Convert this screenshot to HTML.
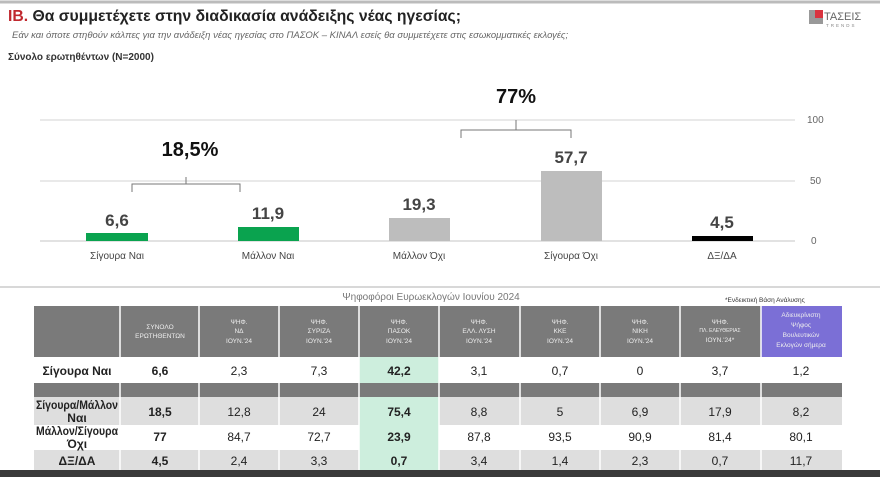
<!DOCTYPE html>
<html><head><meta charset="utf-8"><style>
body{margin:0;background:#fff;}
svg{display:block;font-family:"Liberation Sans Narrow","Liberation Sans","DejaVu Sans",sans-serif;}
</style></head><body>
<svg width="880" height="477" viewBox="0 0 880 477" xmlns="http://www.w3.org/2000/svg">
<rect width="880" height="477" fill="#fff"/>
<line x1="0" y1="2" x2="880" y2="2" stroke="#bbb" stroke-width="3"/>
<text x="8" y="21" font-size="16" font-weight="bold" fill="#222" textLength="453" lengthAdjust="spacingAndGlyphs"><tspan fill="#c0282e">ΙΒ.</tspan> Θα συμμετέχετε στην διαδικασία ανάδειξης νέας ηγεσίας;</text>
<text x="12" y="38" font-size="9.5" font-style="italic" fill="#666">Εάν και όποτε στηθούν κάλπες για την ανάδειξη νέας ηγεσίας στο ΠΑΣΟΚ – ΚΙΝΑΛ εσείς θα συμμετέχετε στις εσωκομματικές εκλογές;</text>
<text x="8" y="60" font-size="10" font-weight="bold" fill="#333">Σύνολο ερωτηθέντων (N=2000)</text>
<rect x="809" y="10" width="14" height="14" fill="#999"/>
<rect x="815" y="10" width="8" height="8" fill="#d9333f"/>
<text x="824" y="20" font-size="11" fill="#666">ΤΑΣΕΙΣ</text>
<text x="826" y="27" font-size="4.5" fill="#888" letter-spacing="2">TRENDS</text>
<g stroke="#e2e2e2" stroke-width="1.5">
<line x1="40" y1="120" x2="795" y2="120"/>
<line x1="40" y1="181" x2="795" y2="181"/>
</g>
<line x1="40" y1="241" x2="795" y2="241" stroke="#d8d8d8" stroke-width="1.5"/>
<g font-size="10" fill="#666">
<text x="807" y="123">100</text><text x="810" y="184">50</text><text x="811" y="244">0</text>
</g>
<rect x="86" y="233" width="62" height="8" fill="#0aa34f"/>
<rect x="238" y="227" width="61" height="14" fill="#0aa34f"/>
<rect x="389" y="218" width="61" height="23" fill="#bdbdbd"/>
<rect x="541" y="171" width="61" height="70" fill="#bdbdbd"/>
<rect x="692" y="236" width="61" height="5" fill="#000"/>
<g font-size="17" font-weight="bold" fill="#444" text-anchor="middle">
<text x="117" y="226">6,6</text>
<text x="268" y="219">11,9</text>
<text x="419" y="210">19,3</text>
<text x="571" y="163">57,7</text>
<text x="722" y="228">4,5</text>
</g>
<g font-size="10" fill="#444" text-anchor="middle">
<text x="117" y="259">Σίγουρα Ναι</text>
<text x="268" y="259">Μάλλον Ναι</text>
<text x="419" y="259">Μάλλον Όχι</text>
<text x="571" y="259">Σίγουρα Όχι</text>
<text x="722" y="259">ΔΞ/ΔΑ</text>
</g>
<g fill="none" stroke="#777" stroke-width="1">
<path d="M132 192 V184 H240 V192 M186 184 V177"/>
<path d="M461 138 V130 H571 V138 M516 130 V120"/>
</g>
<g font-size="20" font-weight="bold" fill="#111" text-anchor="middle">
<text x="190" y="156">18,5%</text>
<text x="516" y="103">77%</text>
</g>
<line x1="0" y1="287" x2="880" y2="287" stroke="#ccc" stroke-width="1.5"/>
<text x="431" y="300" font-size="10" fill="#777" text-anchor="middle">Ψηφοφόροι Ευρωεκλογών Ιουνίου 2024</text>
<text x="725" y="302" font-size="6.5" fill="#333">*Ενδεικτική Βάση Ανάλυσης</text>
<rect x="34" y="306" width="727" height="51" fill="#7a7a7a"/>
<rect x="761" y="306" width="81" height="51" fill="#7b6fd6"/>
<rect x="34" y="383" width="808" height="14" fill="#7a7a7a"/>
<rect x="34" y="397" width="808" height="28" fill="#dedede"/>
<rect x="34" y="450" width="808" height="20" fill="#dedede"/>
<rect x="359" y="357" width="80" height="26" fill="#cdeedd"/>
<rect x="359" y="397" width="80" height="73" fill="#cdeedd"/>
<g stroke="#fff" stroke-width="1.5">
<line x1="120" y1="306" x2="120" y2="470"/><line x1="199" y1="306" x2="199" y2="470"/>
<line x1="279" y1="306" x2="279" y2="470"/><line x1="359" y1="306" x2="359" y2="470"/>
<line x1="439" y1="306" x2="439" y2="470"/><line x1="520" y1="306" x2="520" y2="470"/>
<line x1="600" y1="306" x2="600" y2="470"/><line x1="680" y1="306" x2="680" y2="470"/>
<line x1="761" y1="306" x2="761" y2="470"/>
</g>
<g font-size="6.5" fill="#eee" text-anchor="middle">
<text x="160" y="329">ΣΥΝΟΛΟ</text><text x="160" y="338">ΕΡΩΤΗΘΕΝΤΩΝ</text>
<text x="239" y="324">ΨΗΦ.</text><text x="239" y="333">ΝΔ</text><text x="239" y="343">ΙΟΥΝ.'24</text>
<text x="319" y="324">ΨΗΦ.</text><text x="319" y="333">ΣΥΡΙΖΑ</text><text x="319" y="343">ΙΟΥΝ.'24</text>
<text x="399" y="324">ΨΗΦ.</text><text x="399" y="333">ΠΑΣΟΚ</text><text x="399" y="343">ΙΟΥΝ.'24</text>
<text x="479" y="324">ΨΗΦ.</text><text x="479" y="333">ΕΛΛ. ΛΥΣΗ</text><text x="479" y="343">ΙΟΥΝ.'24</text>
<text x="560" y="324">ΨΗΦ.</text><text x="560" y="333">ΚΚΕ</text><text x="560" y="343">ΙΟΥΝ.'24</text>
<text x="640" y="324">ΨΗΦ.</text><text x="640" y="333">ΝΙΚΗ</text><text x="640" y="343">ΙΟΥΝ.'24</text>
<text x="720" y="324">ΨΗΦ.</text><text x="720" y="332" font-size="5">ΠΛ. ΕΛΕΥΘΕΡΙΑΣ</text><text x="720" y="342">ΙΟΥΝ.'24*</text>
<text x="801" y="317">Αδιευκρίνιστη</text><text x="801" y="327">Ψήφος</text><text x="801" y="337">Βουλευτικών</text><text x="801" y="347">Εκλογών σήμερα</text>
</g>
<g font-size="12" fill="#222" text-anchor="middle">
<text x="77" y="375" font-weight="bold">Σίγουρα Ναι</text>
<text x="160" y="375" font-weight="bold">6,6</text><text x="239" y="375">2,3</text><text x="319" y="375">7,3</text><text x="399" y="375" font-weight="bold">42,2</text><text x="479" y="375">3,1</text><text x="560" y="375">0,7</text><text x="640" y="375">0</text><text x="720" y="375">3,7</text><text x="801" y="375">1,2</text>
<text x="77" y="409" font-weight="bold" textLength="82" lengthAdjust="spacingAndGlyphs">Σίγουρα/Μάλλον</text><text x="77" y="422" font-weight="bold">Ναι</text>
<text x="160" y="416" font-weight="bold">18,5</text><text x="239" y="416">12,8</text><text x="319" y="416">24</text><text x="399" y="416" font-weight="bold">75,4</text><text x="479" y="416">8,8</text><text x="560" y="416">5</text><text x="640" y="416">6,9</text><text x="720" y="416">17,9</text><text x="801" y="416">8,2</text>
<text x="77" y="435" font-weight="bold" textLength="82" lengthAdjust="spacingAndGlyphs">Μάλλον/Σίγουρα</text><text x="77" y="448" font-weight="bold">Όχι</text>
<text x="160" y="441" font-weight="bold">77</text><text x="239" y="441">84,7</text><text x="319" y="441">72,7</text><text x="399" y="441" font-weight="bold">23,9</text><text x="479" y="441">87,8</text><text x="560" y="441">93,5</text><text x="640" y="441">90,9</text><text x="720" y="441">81,4</text><text x="801" y="441">80,1</text>
<text x="77" y="465" font-weight="bold">ΔΞ/ΔΑ</text>
<text x="160" y="465" font-weight="bold">4,5</text><text x="239" y="465">2,4</text><text x="319" y="465">3,3</text><text x="399" y="465" font-weight="bold">0,7</text><text x="479" y="465">3,4</text><text x="560" y="465">1,4</text><text x="640" y="465">2,3</text><text x="720" y="465">0,7</text><text x="801" y="465">11,7</text>
</g>
<rect x="0" y="470" width="880" height="7" fill="#3a3a3a"/>
</svg>
</body></html>
